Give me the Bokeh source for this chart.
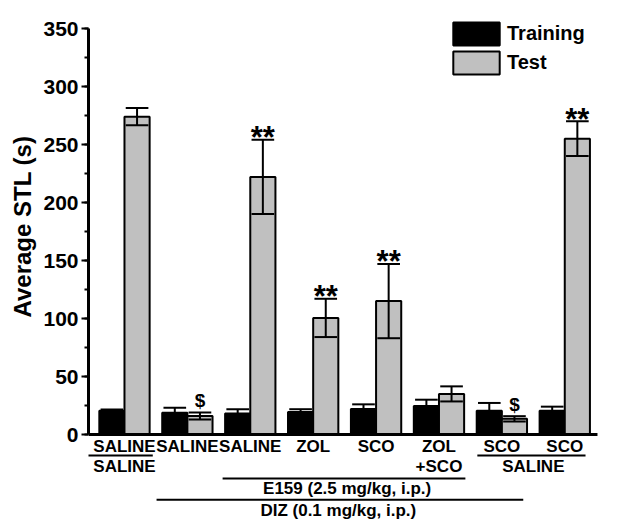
import numpy as np
from bokeh.plotting import figure
from bokeh.models import (SingleIntervalTicker, Range1d, Legend, LegendItem, Title)
from bokeh.core.properties import value
from bokeh.embed import file_html
from bokeh.resources import INLINE

# ---- data ----
row1_labels = ["SALINE", "SALINE", "SALINE", "ZOL", "SCO", "ZOL", "SCO", "SCO"]
row2_labels = ["SALINE", "", "", "", "", "+SCO", "", ""]
training_mean = [20.5, 18.7, 18.0, 19.3, 22.0, 24.5, 20.5, 20.5]
training_err = [1.0, 4.3, 3.8, 2.5, 4.0, 5.5, 6.7, 3.5]
test_mean = [274.0, 16.0, 222.0, 100.5, 115.0, 35.0, 13.5, 255.0]
test_err = [7.5, 3.0, 32.0, 16.5, 32.0, 6.5, 2.3, 15.0]
test_marks = ["", "$", "**", "**", "**", "", "$", "**"]
saline_group2_label = "SALINE"
e159_label = "E159 (2.5 mg/kg, i.p.)"
diz_label = "DIZ (0.1 mg/kg, i.p.)"
y_label = "Average STL (s)"
y_ticks_interval = 50

FONT = value("Liberation Sans")
n = len(row1_labels)
idx = np.arange(1, n + 1, dtype=float)
BW = 0.4
CAP = 0.18

tr_x = idx - BW / 2
te_x = idx + BW / 2
tr_m = np.array(training_mean); tr_e = np.array(training_err)
te_m = np.array(test_mean); te_e = np.array(test_err)

p = figure(width=630, height=522,
           x_range=Range1d(0.428, 9.045), y_range=Range1d(-75.86, 374.14),
           output_backend="svg", toolbar_location=None,
           x_axis_location=None, y_axis_location="left",
           min_border_left=88, min_border_right=0,
           min_border_top=0, min_border_bottom=0)
p.grid.visible = False
p.outline_line_color = None
p.background_fill_color = "white"

ax = p.yaxis[0]
ax.ticker = SingleIntervalTicker(interval=y_ticks_interval, num_minor_ticks=2)
ax.bounds = (0, 350)
ax.axis_line_width = 3
ax.axis_line_color = "black"
ax.major_tick_line_width = 2
ax.minor_tick_line_width = 2
ax.major_tick_out = 7
ax.major_tick_in = 0
ax.minor_tick_out = 4
ax.minor_tick_in = 0
ax.major_label_standoff = 3
ax.major_label_text_font = "Liberation Sans"
ax.major_label_text_font_style = "bold"
ax.major_label_text_font_size = "21px"
ax.major_label_text_color = "black"

# y-axis title, placed along the axis extent (0..350) rather than the frame
p.add_layout(Title(text=y_label, align="left", offset=205, standoff=10,
                   text_font="Liberation Sans", text_font_style="bold",
                   text_font_size="24px", text_color="black"), "left")

# bars
r_tr = p.vbar(x=tr_x, top=tr_m, bottom=0, width=BW, fill_color="black",
              line_color="black", line_width=2)
r_te = p.vbar(x=te_x, top=te_m, bottom=0, width=BW, fill_color="#c0c0c0",
              line_color="black", line_width=2)

# error bars
for xs, m, e in ((tr_x, tr_m, tr_e), (te_x, te_m, te_e)):
    p.segment(x0=xs, y0=m - e, x1=xs, y1=m + e, line_color="black", line_width=2)
    p.segment(x0=xs - CAP, y0=m + e, x1=xs + CAP, y1=m + e, line_color="black", line_width=2)
    p.segment(x0=xs - CAP, y0=m - e, x1=xs + CAP, y1=m - e, line_color="black", line_width=2)

# x axis line
p.segment(x0=[0.428], y0=[0], x1=[8.52], y1=[0], line_color="black", line_width=3)

# significance marks
stars = [i for i, t in enumerate(test_marks) if t == "**"]
dollars = [i for i, t in enumerate(test_marks) if t == "$"]
p.text(x=te_x[stars], y=(te_m + te_e)[stars], text=[test_marks[i] for i in stars],
       text_font=FONT, text_font_style="bold", text_font_size="31px",
       text_align="center", text_baseline="alphabetic", y_offset=-2, text_color="black")
p.text(x=te_x[dollars], y=(te_m + te_e)[dollars], text=[test_marks[i] for i in dollars],
       text_font=FONT, text_font_style="bold", text_font_size="19px",
       text_align="center", text_baseline="alphabetic", y_offset=-12, text_color="black")

# category labels
lab_kw = dict(text_font=FONT, text_font_style="bold", text_font_size="17px",
              text_align="center", text_baseline="middle", text_color="black")
p.text(x=idx, y=[-10.3] * n, text=row1_labels, **lab_kw)
p.text(x=idx, y=[-27.6] * n, text=row2_labels, **lab_kw)
p.text(x=[7.5], y=[-27.6], text=[saline_group2_label], **lab_kw)
p.text(x=[4.54], y=[-46.6], text=[e159_label], **lab_kw)
p.text(x=[4.40], y=[-65.5], text=[diz_label], **lab_kw)

# bracket lines
p.segment(x0=[0.41, 6.61, 2.56, 1.51], y0=[-18.1, -18.1, -37.9, -56.3],
          x1=[1.45, 8.33, 6.42, 7.34], y1=[-18.1, -18.1, -37.9, -56.3],
          line_color="black", line_width=2)

legend = Legend(items=[LegendItem(label="Training", renderers=[r_tr]),
                       LegendItem(label="Test", renderers=[r_te])],
                location=(359, 445), orientation="vertical",
                glyph_width=58, glyph_height=29, spacing=0, padding=0, margin=0,
                label_standoff=2, border_line_color=None, background_fill_alpha=0,
                label_text_font="Liberation Sans", label_text_font_style="bold",
                label_text_font_size="20px", label_text_color="black")
p.add_layout(legend)

open("out.html", "w").write(file_html(p, INLINE))
